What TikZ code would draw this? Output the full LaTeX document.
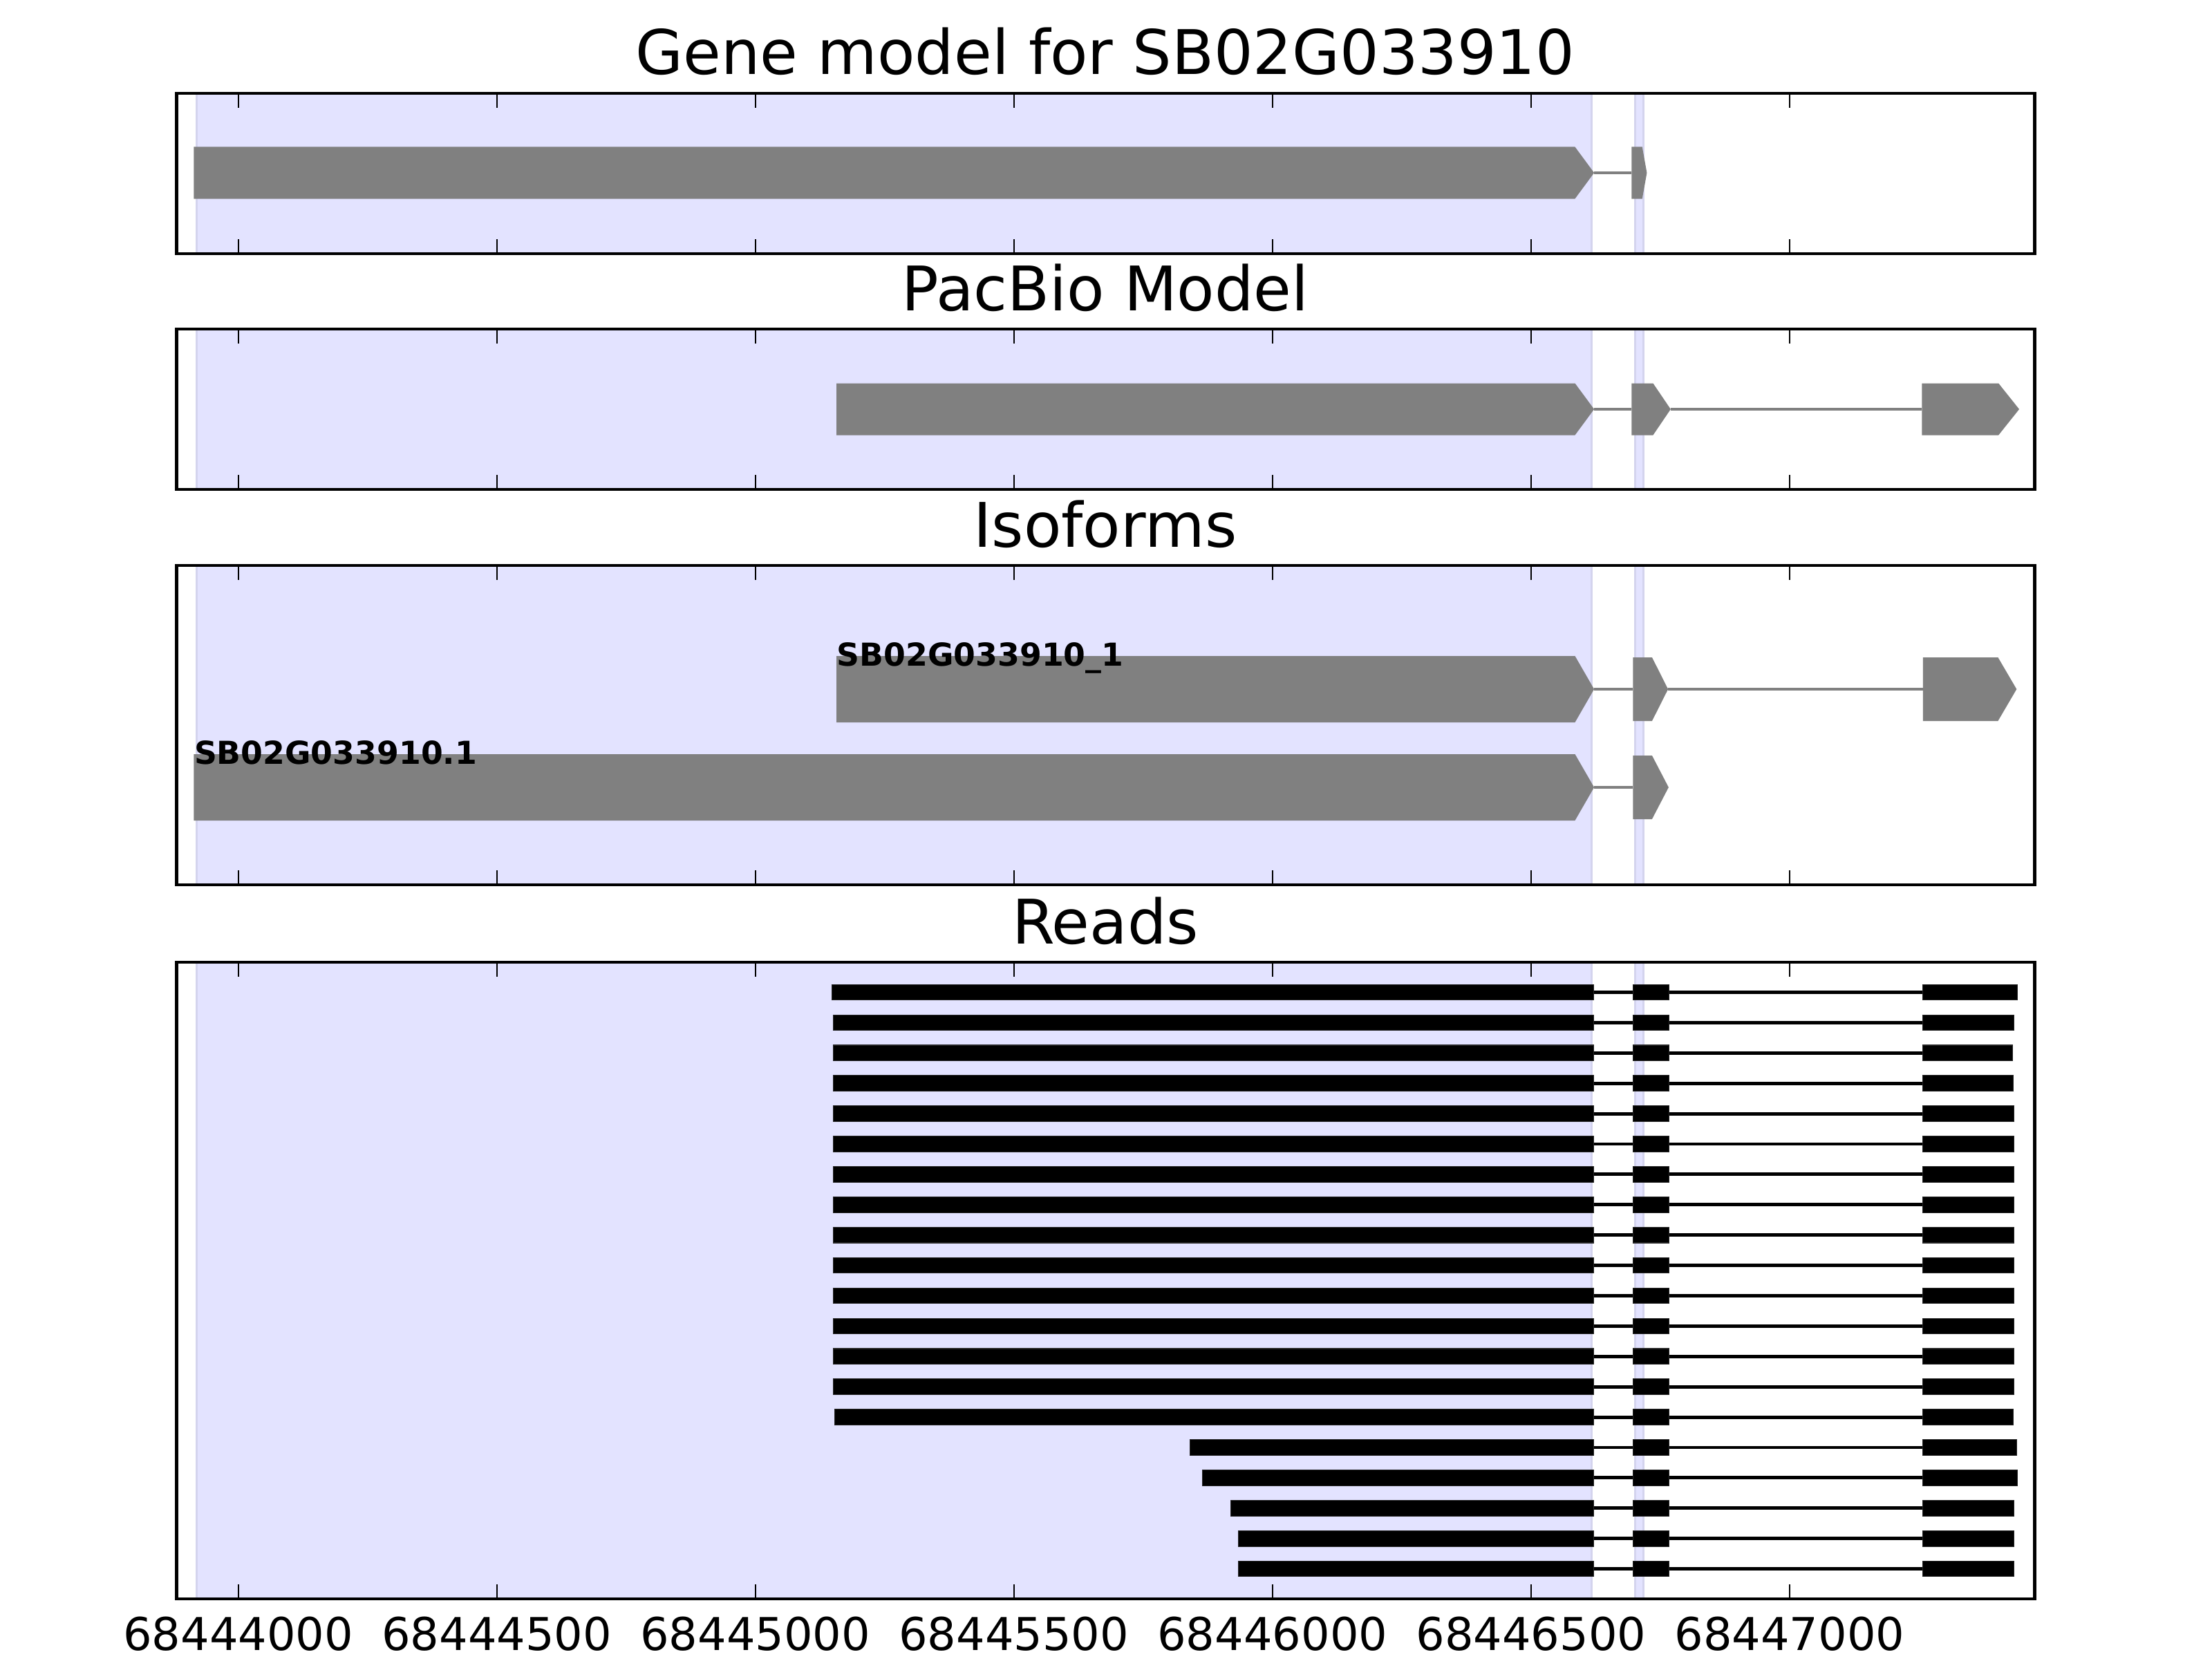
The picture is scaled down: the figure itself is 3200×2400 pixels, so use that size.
\documentclass[tikz,border=0pt]{standalone}
\usepackage{fontspec}
\setmainfont{DejaVu Sans}

\definecolor{exongray}{HTML}{808080}
\definecolor{hiliteblue}{RGB}{227,227,255}
\definecolor{hiliteedge}{RGB}{212,212,238}

\tikzset{
	panel/.style={line width=1.4pt},
	axtick/.style={line width=0.6pt},
	hilite/.style={fill=hiliteblue,draw=hiliteedge,line width=0.8pt},
	exon/.style={fill=exongray},
	intron/.style={draw=exongray,line width=1.4pt},
	readexon/.style={fill=black,draw=black!85,line width=0.3pt},
	readintron/.style={draw=black,line width=1.4pt},
	paneltitle/.style={anchor=base,inner sep=0pt,font=\fontsize{25.3}{30}\selectfont},
	ticklabel/.style={anchor=base,inner sep=0pt,font=\fontsize{18.6}{22}\selectfont},
	isolabel/.style={anchor=base west,inner sep=0pt,font=\fontsize{13}{16}\selectfont\bfseries}
}

% ekson som pil: start, slutt paa kroppen, spiss, midt, halv hoyde
\newcommand{\exonpil}[5]{\fill[exon] (#1,#4-#5) -- (#2,#4-#5) -- (#3,#4) -- (#2,#4+#5) -- (#1,#4+#5) -- cycle;}

\begin{document}
\begin{tikzpicture}[x=0.01cm,y=-0.01cm]
	\useasboundingbox (0,0) rectangle (3200,2400);

	% Titler
	\node[paneltitle] (t1) at (1599,108) {Gene model for SB02G033910};
	\node[paneltitle] (t2) at (1599,449) {PacBio Model};
	\node[paneltitle] (t3) at (1599,791) {Isoforms};
	\node[paneltitle] (t4) at (1599,1365) {Reads};

	\begin{scope}[xshift=3.445cm,x=0.00748cm]
		% Markerte omraader
		\foreach \ya/\yb in {135/367,476/708,818/1280,1392/2313} {
			\filldraw[hilite] (-80,\ya) rectangle (2617,\yb);
			\filldraw[hilite] (2701,\ya) rectangle (2717,\yb);
		}

		% Genmodell
		\draw[intron] (2622,250) -- (2694.5,250);
		\exonpil{-86}{2585}{2622}{250}{37.5}
		\exonpil{2694.5}{2715}{2724}{250}{37.5}

		% PacBio-modell
		\draw[intron] (2622,592) -- (2694.5,592);
		\draw[intron] (2770,592) -- (3256,592);
		\exonpil{1157}{2585}{2622}{592}{37.5}
		\exonpil{2694.5}{2736}{2770}{592}{37.5}
		\exonpil{3256}{3404}{3444}{592}{37.5}

		% Isoformer
		\draw[intron] (2622,997) -- (2697,997);
		\draw[intron] (2765,997) -- (3258,997);
		\exonpil{1157}{2585}{2622}{997}{48}
		\exonpil{2697}{2734}{2765}{997}{46}
		\exonpil{3258}{3403}{3439}{997}{46}
		\node[isolabel] (i1) at (1157,963) {SB02G033910\_1};

		\draw[intron] (2622,1139) -- (2697,1139);
		\exonpil{-86}{2585}{2622}{1139}{48}
		\exonpil{2697}{2734}{2766}{1139}{46}
		\node[isolabel] (i2) at (-86,1105) {SB02G033910.1};

		% Lesninger
		\foreach \s/\e [count=\i] in {1148/3441,1150.5/3434,1150.5/3431,1150.5/3433,
				1150.5/3434,1150.5/3434,1150.5/3434,1150.5/3434,1150.5/3434,1150.5/3434,
				1150.5/3434,1150.5/3434,1150.5/3434,1150.5/3434,1153/3433,
				1840/3439,1864/3441,1919/3434,1934/3434,1934/3434} {
			\pgfmathsetmacro\yr{1435.5+(\i-1)*43.9}
			\draw[readintron] (2621,\yr) -- (3257,\yr);
			\filldraw[readexon] (\s,\yr-11.3) rectangle (2621,\yr+11.3);
			\filldraw[readexon] (2697,\yr-11.3) rectangle (2767,\yr+11.3);
			\filldraw[readexon] (3257,\yr-11.3) rectangle (\e,\yr+11.3);
		}

		% Rammer og merker
		\foreach \ya/\yb in {135/367,476/708,818/1280,1392/2313} {
			\foreach \t in {0,500,...,3000} {
				\draw[axtick] (\t,\ya) -- ++(0,21);
				\draw[axtick] (\t,\yb) -- ++(0,-21);
			}
			\draw[panel] (-119.7,\ya) rectangle (3473.9,\yb);
		}

		% Akse-tall
		\foreach \t [count=\k] in {0,500,...,3000}
			\node[ticklabel] (l\k) at (\t,2387) {\number\numexpr68444000+\t\relax};
	\end{scope}
\end{tikzpicture}
\end{document}
